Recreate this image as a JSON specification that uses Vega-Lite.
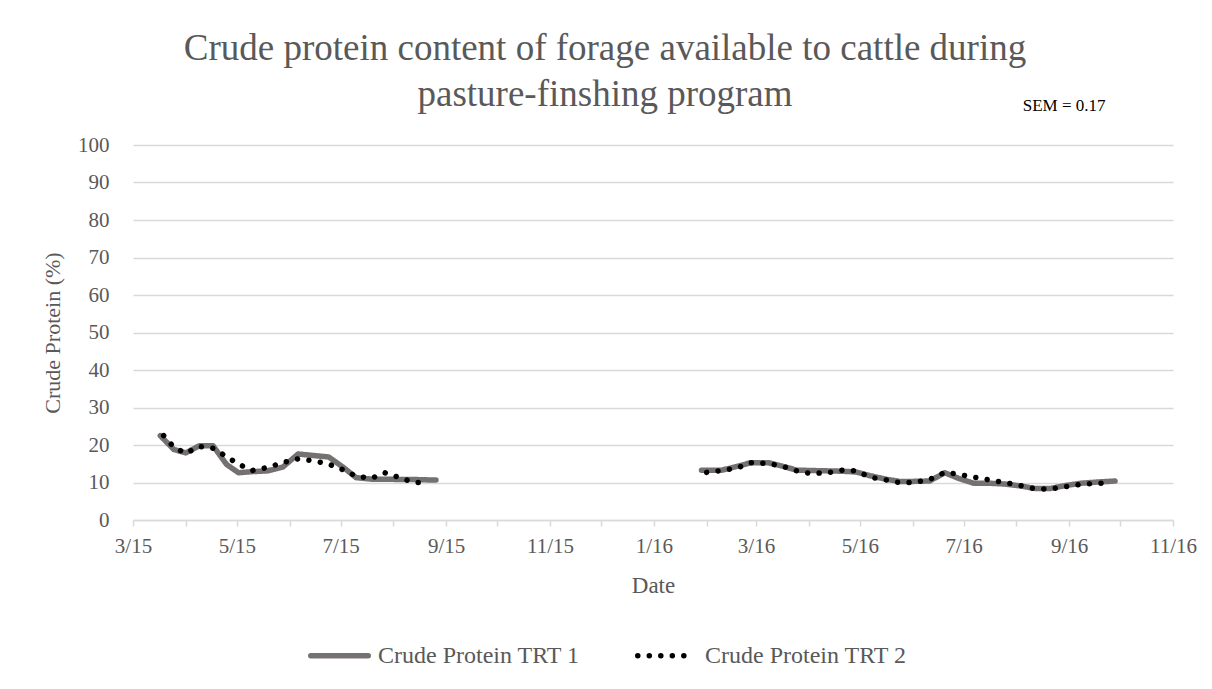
{
  "$schema": "https://vega.github.io/schema/vega-lite/v6.json",
  "width": 1040,
  "height": 375,
  "autosize": "none",
  "padding": {"left": 133, "top": 145, "right": 39, "bottom": 169},
  "background": "white",
  "config": {
    "view": {"stroke": null},
    "font": "Liberation Serif",
    "axisX": {
      "grid": false,
      "domainColor": "#d9d9d9",
      "domainWidth": 1.5,
      "tickColor": "#d9d9d9",
      "tickWidth": 1.5,
      "tickSize": 6,
      "labelFont": "Liberation Serif",
      "labelFontSize": 21,
      "labelColor": "#595959",
      "labelPadding": 9,
      "labelFlush": false,
      "labelOverlap": false,
      "titleFont": "Liberation Serif",
      "titleFontSize": 23,
      "titleFontWeight": "normal",
      "titleColor": "#595959",
      "titlePadding": 18
    },
    "axisY": {
      "domain": false,
      "ticks": false,
      "gridColor": "#d9d9d9",
      "gridWidth": 1.5,
      "labelFont": "Liberation Serif",
      "labelFontSize": 21,
      "labelColor": "#595959",
      "labelPadding": 24,
      "labelOverlap": false,
      "titleFont": "Liberation Serif",
      "titleFontSize": 22,
      "titleFontWeight": "normal",
      "titleColor": "#595959",
      "titlePadding": 13
    }
  },
  "title": {
    "text": ["Crude protein content of forage available to cattle during", "pasture-finshing program"],
    "font": "Liberation Serif",
    "fontSize": 37,
    "fontWeight": "normal",
    "color": "#595959",
    "anchor": "middle",
    "dx": -48,
    "offset": -17,
    "lineHeight": 46
  },
  "resolve": {"scale": {"x": "independent", "y": "independent"}, "axis": {"x": "independent", "y": "independent"}},
  "layer": [
    {
      "data": {
        "values": [
          {"series": "Crude Protein TRT 1", "season": "2015", "date": "2015-03-17", "cp": 22.5},
          {"series": "Crude Protein TRT 1", "season": "2015", "date": "2015-03-25", "cp": 18.8},
          {"series": "Crude Protein TRT 1", "season": "2015", "date": "2015-04-01", "cp": 17.9},
          {"series": "Crude Protein TRT 1", "season": "2015", "date": "2015-04-09", "cp": 19.8},
          {"series": "Crude Protein TRT 1", "season": "2015", "date": "2015-04-17", "cp": 19.8},
          {"series": "Crude Protein TRT 1", "season": "2015", "date": "2015-04-25", "cp": 14.8},
          {"series": "Crude Protein TRT 1", "season": "2015", "date": "2015-05-02", "cp": 12.6},
          {"series": "Crude Protein TRT 1", "season": "2015", "date": "2015-05-10", "cp": 12.9},
          {"series": "Crude Protein TRT 1", "season": "2015", "date": "2015-05-19", "cp": 13.1},
          {"series": "Crude Protein TRT 1", "season": "2015", "date": "2015-05-28", "cp": 14.1},
          {"series": "Crude Protein TRT 1", "season": "2015", "date": "2015-06-06", "cp": 17.6},
          {"series": "Crude Protein TRT 1", "season": "2015", "date": "2015-06-15", "cp": 17.2},
          {"series": "Crude Protein TRT 1", "season": "2015", "date": "2015-06-24", "cp": 16.8},
          {"series": "Crude Protein TRT 1", "season": "2015", "date": "2015-07-03", "cp": 13.9},
          {"series": "Crude Protein TRT 1", "season": "2015", "date": "2015-07-10", "cp": 11.3},
          {"series": "Crude Protein TRT 1", "season": "2015", "date": "2015-07-19", "cp": 10.9},
          {"series": "Crude Protein TRT 1", "season": "2015", "date": "2015-07-27", "cp": 10.9},
          {"series": "Crude Protein TRT 1", "season": "2015", "date": "2015-08-04", "cp": 10.8},
          {"series": "Crude Protein TRT 1", "season": "2015", "date": "2015-08-13", "cp": 10.8},
          {"series": "Crude Protein TRT 1", "season": "2015", "date": "2015-08-21", "cp": 10.7},
          {"series": "Crude Protein TRT 1", "season": "2015", "date": "2015-08-26", "cp": 10.7},
          {"series": "Crude Protein TRT 1", "season": "2016", "date": "2016-01-29", "cp": 13.3},
          {"series": "Crude Protein TRT 1", "season": "2016", "date": "2016-02-10", "cp": 13.3},
          {"series": "Crude Protein TRT 1", "season": "2016", "date": "2016-02-19", "cp": 14.3},
          {"series": "Crude Protein TRT 1", "season": "2016", "date": "2016-02-27", "cp": 15.3},
          {"series": "Crude Protein TRT 1", "season": "2016", "date": "2016-03-08", "cp": 15.3},
          {"series": "Crude Protein TRT 1", "season": "2016", "date": "2016-03-16", "cp": 14.4},
          {"series": "Crude Protein TRT 1", "season": "2016", "date": "2016-03-25", "cp": 13.3},
          {"series": "Crude Protein TRT 1", "season": "2016", "date": "2016-04-02", "cp": 13.2},
          {"series": "Crude Protein TRT 1", "season": "2016", "date": "2016-04-12", "cp": 13.1},
          {"series": "Crude Protein TRT 1", "season": "2016", "date": "2016-04-21", "cp": 13.0},
          {"series": "Crude Protein TRT 1", "season": "2016", "date": "2016-04-29", "cp": 12.8},
          {"series": "Crude Protein TRT 1", "season": "2016", "date": "2016-05-07", "cp": 11.8},
          {"series": "Crude Protein TRT 1", "season": "2016", "date": "2016-05-16", "cp": 10.9},
          {"series": "Crude Protein TRT 1", "season": "2016", "date": "2016-05-24", "cp": 10.3},
          {"series": "Crude Protein TRT 1", "season": "2016", "date": "2016-06-02", "cp": 10.3},
          {"series": "Crude Protein TRT 1", "season": "2016", "date": "2016-06-11", "cp": 10.4},
          {"series": "Crude Protein TRT 1", "season": "2016", "date": "2016-06-20", "cp": 12.6},
          {"series": "Crude Protein TRT 1", "season": "2016", "date": "2016-06-28", "cp": 11.1},
          {"series": "Crude Protein TRT 1", "season": "2016", "date": "2016-07-07", "cp": 9.8},
          {"series": "Crude Protein TRT 1", "season": "2016", "date": "2016-07-16", "cp": 9.8},
          {"series": "Crude Protein TRT 1", "season": "2016", "date": "2016-07-25", "cp": 9.6},
          {"series": "Crude Protein TRT 1", "season": "2016", "date": "2016-08-03", "cp": 9.1},
          {"series": "Crude Protein TRT 1", "season": "2016", "date": "2016-08-12", "cp": 8.4},
          {"series": "Crude Protein TRT 1", "season": "2016", "date": "2016-08-21", "cp": 8.4},
          {"series": "Crude Protein TRT 1", "season": "2016", "date": "2016-08-30", "cp": 9.2},
          {"series": "Crude Protein TRT 1", "season": "2016", "date": "2016-09-08", "cp": 9.8},
          {"series": "Crude Protein TRT 1", "season": "2016", "date": "2016-09-17", "cp": 10.1},
          {"series": "Crude Protein TRT 1", "season": "2016", "date": "2016-09-28", "cp": 10.4},
          {"series": "Crude Protein TRT 2", "season": "2015", "date": "2015-03-19", "cp": 22.5},
          {"series": "Crude Protein TRT 2", "season": "2015", "date": "2015-03-25", "cp": 19.4},
          {"series": "Crude Protein TRT 2", "season": "2015", "date": "2015-04-01", "cp": 17.8},
          {"series": "Crude Protein TRT 2", "season": "2015", "date": "2015-04-09", "cp": 19.6},
          {"series": "Crude Protein TRT 2", "season": "2015", "date": "2015-04-17", "cp": 19.1},
          {"series": "Crude Protein TRT 2", "season": "2015", "date": "2015-04-25", "cp": 16.9},
          {"series": "Crude Protein TRT 2", "season": "2015", "date": "2015-05-02", "cp": 14.9},
          {"series": "Crude Protein TRT 2", "season": "2015", "date": "2015-05-10", "cp": 13.2},
          {"series": "Crude Protein TRT 2", "season": "2015", "date": "2015-05-19", "cp": 14.0},
          {"series": "Crude Protein TRT 2", "season": "2015", "date": "2015-05-28", "cp": 15.3},
          {"series": "Crude Protein TRT 2", "season": "2015", "date": "2015-06-06", "cp": 16.3},
          {"series": "Crude Protein TRT 2", "season": "2015", "date": "2015-06-15", "cp": 15.8},
          {"series": "Crude Protein TRT 2", "season": "2015", "date": "2015-06-24", "cp": 14.9},
          {"series": "Crude Protein TRT 2", "season": "2015", "date": "2015-07-03", "cp": 13.3},
          {"series": "Crude Protein TRT 2", "season": "2015", "date": "2015-07-10", "cp": 11.7},
          {"series": "Crude Protein TRT 2", "season": "2015", "date": "2015-07-19", "cp": 11.1},
          {"series": "Crude Protein TRT 2", "season": "2015", "date": "2015-07-27", "cp": 12.6},
          {"series": "Crude Protein TRT 2", "season": "2015", "date": "2015-08-04", "cp": 11.4},
          {"series": "Crude Protein TRT 2", "season": "2015", "date": "2015-08-13", "cp": 10.0},
          {"series": "Crude Protein TRT 2", "season": "2015", "date": "2015-08-21", "cp": 10.0},
          {"series": "Crude Protein TRT 2", "season": "2016", "date": "2016-02-01", "cp": 12.7},
          {"series": "Crude Protein TRT 2", "season": "2016", "date": "2016-02-10", "cp": 13.2},
          {"series": "Crude Protein TRT 2", "season": "2016", "date": "2016-02-19", "cp": 13.9},
          {"series": "Crude Protein TRT 2", "season": "2016", "date": "2016-02-27", "cp": 15.3},
          {"series": "Crude Protein TRT 2", "season": "2016", "date": "2016-03-08", "cp": 15.1},
          {"series": "Crude Protein TRT 2", "season": "2016", "date": "2016-03-16", "cp": 14.4},
          {"series": "Crude Protein TRT 2", "season": "2016", "date": "2016-03-25", "cp": 13.1},
          {"series": "Crude Protein TRT 2", "season": "2016", "date": "2016-04-02", "cp": 12.4},
          {"series": "Crude Protein TRT 2", "season": "2016", "date": "2016-04-12", "cp": 12.6},
          {"series": "Crude Protein TRT 2", "season": "2016", "date": "2016-04-21", "cp": 13.3},
          {"series": "Crude Protein TRT 2", "season": "2016", "date": "2016-04-29", "cp": 13.1},
          {"series": "Crude Protein TRT 2", "season": "2016", "date": "2016-05-07", "cp": 11.4},
          {"series": "Crude Protein TRT 2", "season": "2016", "date": "2016-05-16", "cp": 10.7},
          {"series": "Crude Protein TRT 2", "season": "2016", "date": "2016-05-24", "cp": 10.0},
          {"series": "Crude Protein TRT 2", "season": "2016", "date": "2016-06-02", "cp": 10.0},
          {"series": "Crude Protein TRT 2", "season": "2016", "date": "2016-06-11", "cp": 10.8},
          {"series": "Crude Protein TRT 2", "season": "2016", "date": "2016-06-20", "cp": 12.7},
          {"series": "Crude Protein TRT 2", "season": "2016", "date": "2016-06-28", "cp": 12.2},
          {"series": "Crude Protein TRT 2", "season": "2016", "date": "2016-07-07", "cp": 11.4},
          {"series": "Crude Protein TRT 2", "season": "2016", "date": "2016-07-16", "cp": 10.7},
          {"series": "Crude Protein TRT 2", "season": "2016", "date": "2016-07-25", "cp": 10.0},
          {"series": "Crude Protein TRT 2", "season": "2016", "date": "2016-08-03", "cp": 9.2},
          {"series": "Crude Protein TRT 2", "season": "2016", "date": "2016-08-12", "cp": 8.3},
          {"series": "Crude Protein TRT 2", "season": "2016", "date": "2016-08-21", "cp": 8.3},
          {"series": "Crude Protein TRT 2", "season": "2016", "date": "2016-08-30", "cp": 8.9},
          {"series": "Crude Protein TRT 2", "season": "2016", "date": "2016-09-08", "cp": 9.5},
          {"series": "Crude Protein TRT 2", "season": "2016", "date": "2016-09-17", "cp": 9.8},
          {"series": "Crude Protein TRT 2", "season": "2016", "date": "2016-09-26", "cp": 9.8}
        ]
      },
      "mark": {"type": "line", "strokeWidth": 5.5, "strokeCap": "round", "strokeJoin": "round", "clip": false},
      "encoding": {
        "x": {
          "field": "date",
          "type": "temporal",
          "title": "Date",
          "scale": {"type": "utc", "domain": [{"year": 2015, "month": 3, "date": 1, "utc": true}, {"year": 2016, "month": 11, "date": 1, "utc": true}]},
          "axis": {
            "tickCount": {"interval": "month", "step": 1},
            "format": "%-m/%y",
            "labelOpacity": {"condition": {"test": "utcmonth(datum.value) % 2 == 1", "value": 0}, "value": 1}
          }
        },
        "y": {
          "field": "cp",
          "type": "quantitative",
          "title": "Crude Protein (%)",
          "scale": {"domain": [0, 100], "nice": false, "zero": true},
          "axis": {"values": [0, 10, 20, 30, 40, 50, 60, 70, 80, 90, 100]}
        },
        "detail": {"field": "season", "type": "nominal"},
        "color": {
          "field": "series",
          "type": "nominal",
          "scale": {"domain": ["Crude Protein TRT 1", "Crude Protein TRT 2"], "range": ["#767171", "#000000"]},
          "legend": {
            "orient": "none",
            "legendX": 175,
            "legendY": 479,
            "direction": "horizontal",
            "title": null,
            "symbolType": "stroke",
            "symbolSize": 3300,
            "symbolStrokeWidth": 5.5,
            "labelFont": "Liberation Serif",
            "labelFontSize": 24,
            "labelColor": "#595959",
            "labelOffset": 7,
            "labelLimit": 0,
            "columnPadding": 46,
            "encode": {"symbols": {"update": {"strokeCap": {"value": "round"}}}}
          }
        },
        "strokeDash": {
          "field": "series",
          "type": "nominal",
          "scale": {"domain": ["Crude Protein TRT 1", "Crude Protein TRT 2"], "range": [[1, 0], [0.01, 11.5]]},
          "legend": {
            "orient": "none",
            "legendX": 175,
            "legendY": 479,
            "direction": "horizontal",
            "title": null,
            "symbolType": "stroke",
            "symbolSize": 3300,
            "symbolStrokeWidth": 5.5,
            "labelFont": "Liberation Serif",
            "labelFontSize": 24,
            "labelColor": "#595959",
            "labelOffset": 7,
            "labelLimit": 0,
            "columnPadding": 46,
            "encode": {"symbols": {"update": {"strokeCap": {"value": "round"}}}}
          }
        }
      }
    },
    {
      "data": {"values": [{"label": "SEM = 0.17"}]},
      "mark": {"type": "text", "font": "Liberation Serif", "fontSize": 17, "color": "#000000", "align": "center", "baseline": "middle"},
      "encoding": {
        "x": {
          "datum": {"year": 2016, "month": 8, "date": 29, "utc": true},
          "type": "temporal",
          "scale": {"type": "utc", "domain": [{"year": 2015, "month": 3, "date": 1, "utc": true}, {"year": 2016, "month": 11, "date": 1, "utc": true}]},
          "axis": null
        },
        "y": {
          "datum": 110.5,
          "type": "quantitative",
          "scale": {"domain": [0, 100], "nice": false, "zero": true},
          "axis": null
        },
        "text": {"field": "label", "type": "nominal"}
      }
    }
  ]
}
